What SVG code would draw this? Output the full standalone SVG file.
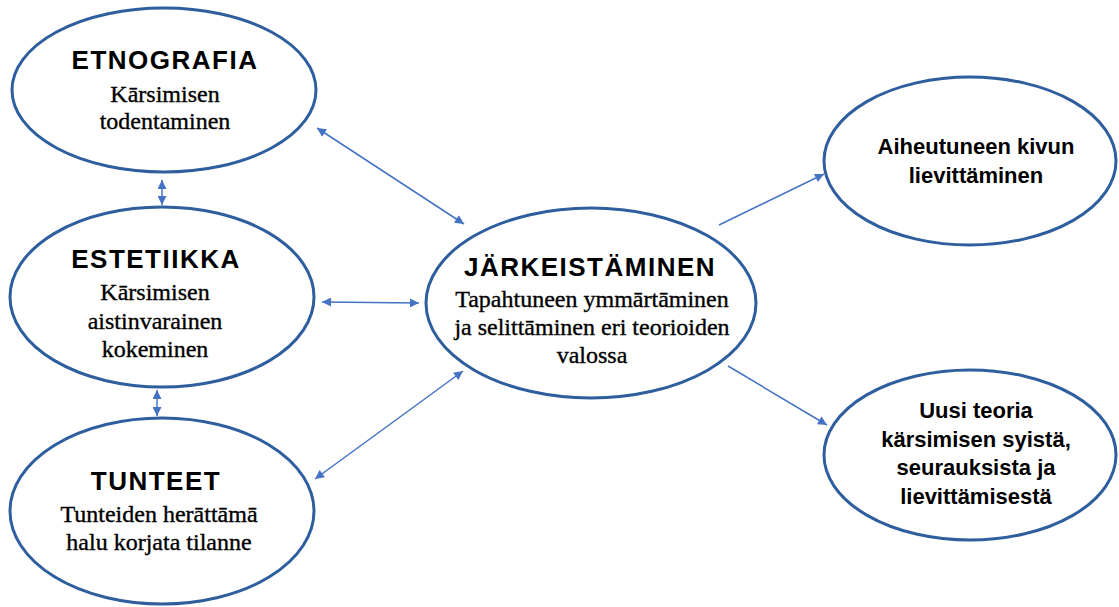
<svg xmlns="http://www.w3.org/2000/svg" width="1119" height="607" viewBox="0 0 1119 607">
<defs>
<marker id="ah" viewBox="0 0 10 10" refX="10" refY="5" markerWidth="10" markerHeight="9" markerUnits="userSpaceOnUse" orient="auto-start-reverse">
<path d="M0,0 L10,5 L0,10 z" fill="#4472C4"/>
</marker>
</defs>
<style>
.node{fill:#fff;stroke:#2E5E9E;stroke-width:3}
.conn{stroke:#4472C4;stroke-width:1.5;fill:none}
.t{font-family:'Liberation Sans',Arial,sans-serif;font-weight:bold;font-size:26px;fill:#000;text-anchor:middle;letter-spacing:1.5px}
.s{font-family:'Liberation Serif','Times New Roman',serif;font-size:24px;fill:#000;stroke:#000;stroke-width:0.35;text-anchor:middle}
.r{font-family:'Liberation Sans',Arial,sans-serif;font-weight:bold;font-size:22px;fill:#000;text-anchor:middle}
</style>
<rect width="1119" height="607" fill="#fff"/>
<g id="connectors">
<line class="conn" x1="162" y1="180" x2="162" y2="205" marker-start="url(#ah)" marker-end="url(#ah)"/>
<line class="conn" x1="157" y1="390" x2="157" y2="416" marker-start="url(#ah)" marker-end="url(#ah)"/>
<line class="conn" x1="317" y1="128" x2="464" y2="224" marker-start="url(#ah)" marker-end="url(#ah)"/>
<line class="conn" x1="322" y1="302" x2="419" y2="303" marker-start="url(#ah)" marker-end="url(#ah)"/>
<line class="conn" x1="315" y1="479" x2="463" y2="371" marker-start="url(#ah)" marker-end="url(#ah)"/>
<line class="conn" x1="719" y1="225" x2="824" y2="174" marker-end="url(#ah)"/>
<line class="conn" x1="728" y1="366" x2="827" y2="425" marker-end="url(#ah)"/>
</g>
<g id="etnografia">
<ellipse class="node" cx="164" cy="90" rx="152" ry="82"/>
<text class="t" x="165" y="69">ETNOGRAFIA</text>
<text class="s" x="165" y="102">Kārsimisen</text>
<text class="s" x="165" y="129">todentaminen</text>
</g>
<g id="estetiikka">
<ellipse class="node" cx="162" cy="297" rx="152" ry="90"/>
<text class="t" x="156" y="268">ESTETIIKKA</text>
<text class="s" x="155" y="300">Kārsimisen</text>
<text class="s" x="155" y="329">aistinvarainen</text>
<text class="s" x="155" y="357">kokeminen</text>
</g>
<g id="tunteet">
<ellipse class="node" cx="162" cy="511" rx="152" ry="93"/>
<text class="t" x="156" y="490">TUNTEET</text>
<text class="s" x="159" y="522">Tunteiden herāttāmā</text>
<text class="s" x="159" y="550">halu korjata tilanne</text>
</g>
<g id="jarkeistaminen">
<ellipse class="node" cx="591" cy="303" rx="165" ry="95"/>
<text class="t" x="590" y="276">JÄRKEISTÄMINEN</text>
<text class="s" x="592" y="307">Tapahtuneen ymmārtāminen</text>
<text class="s" x="592" y="335">ja selittāminen eri teorioiden</text>
<text class="s" x="592" y="363">valossa</text>
</g>
<g id="kivun">
<ellipse class="node" cx="970" cy="161" rx="146" ry="84"/>
<text class="r" x="976" y="154">Aiheutuneen kivun</text>
<text class="r" x="976" y="183">lievittäminen</text>
</g>
<g id="teoria">
<ellipse class="node" cx="970" cy="455" rx="146" ry="85"/>
<text class="r" x="976" y="418">Uusi teoria</text>
<text class="r" x="976" y="447">kärsimisen syistä,</text>
<text class="r" x="976" y="475">seurauksista ja</text>
<text class="r" x="976" y="504">lievittämisestä</text>
</g>
</svg>
